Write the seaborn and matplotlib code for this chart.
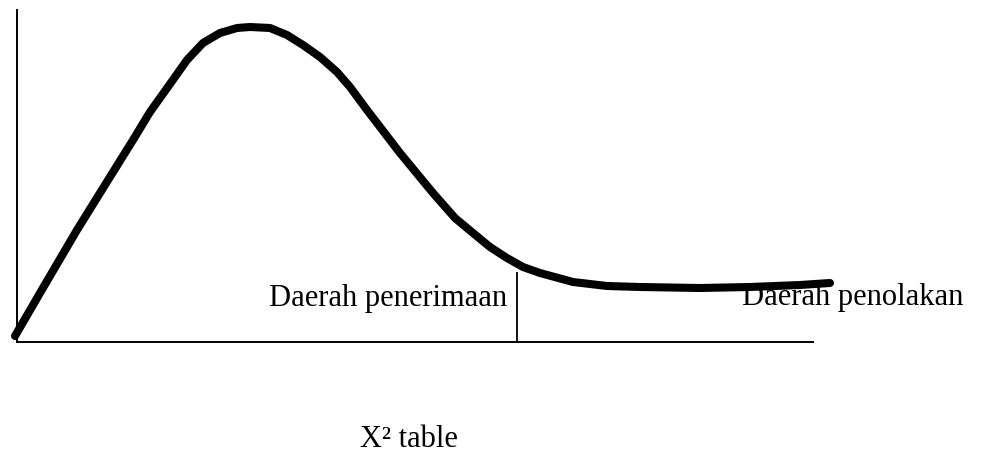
import numpy as np
import pandas as pd
import seaborn as sns
import matplotlib.pyplot as plt

# curve (x along the axis, height above the axis)
chi_x = [-2, 23, 60, 83, 116, 133, 153, 170, 186, 203, 220, 233, 253, 270,
         286, 303, 320, 333, 350, 383, 416, 438, 456, 473, 490, 506, 523,
         556, 590, 623, 683, 733, 783, 813]
density = [6, 49, 112, 149, 202, 230, 258, 282, 299, 309, 314, 315, 314, 307,
           297, 285, 270, 255, 232, 189, 149, 124, 109, 95, 84, 75, 69,
           60, 56, 55, 54, 55, 57, 59]

# critical value line
critical_x = 500
critical_top = 70

region_labels = ["Daerah penerimaan", "Daerah penolakan"]
axis_label = "X\u00b2 table"

sns.set_style("white")
plt.rcParams['font.family'] = ['Liberation Serif', 'DejaVu Serif']
plt.rcParams['text.color'] = 'black'

df = pd.DataFrame({"x": chi_x, "y": density})

fig = plt.figure(figsize=(9.82, 4.54), dpi=100)
ax = fig.add_axes([17 / 982, 112 / 454, 796 / 982, 332 / 454])

sns.lineplot(data=df, x="x", y="y", sort=False, estimator=None, color="black",
             linewidth=5.8, ax=ax, clip_on=False, solid_capstyle="round",
             solid_joinstyle="round")
ax.vlines(critical_x, 0, critical_top, color="black", linewidth=1.3)

ax.set_xlim(0, 796)
ax.set_ylim(0, 332)
ax.set_xticks([])
ax.set_yticks([])
ax.set_xlabel("")
ax.set_ylabel("")
sns.despine(ax=ax)
for s in ["left", "bottom"]:
    ax.spines[s].set_linewidth(1.4)
    ax.spines[s].set_color("black")

ax.text(490, 36, region_labels[0], ha="right", va="baseline", fontsize=22,
        color="black")
ax.text(725, 37, region_labels[1], ha="left", va="baseline", fontsize=22,
        color="black", clip_on=False)
fig.text(360 / 982, 1 - 447 / 454, axis_label, ha="left", va="baseline",
         fontsize=22, color="black")

plt.savefig("out.png", dpi=100)
